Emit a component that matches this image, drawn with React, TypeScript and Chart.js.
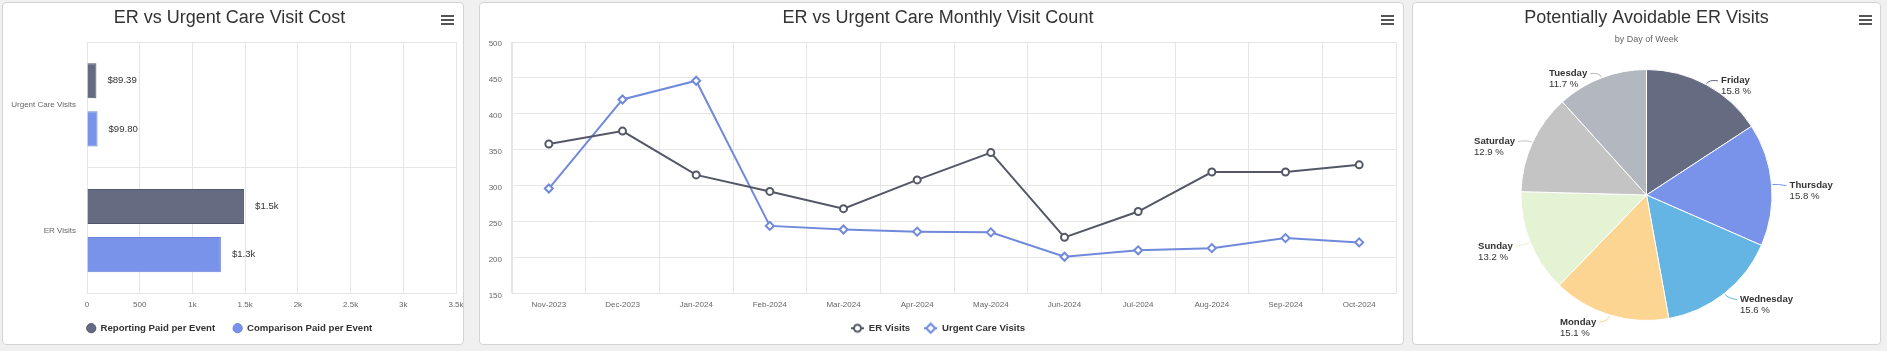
import React, { useEffect, useRef } from 'react';
import { Chart, registerables } from 'chart.js';
Chart.register(...registerables);

const FONT = "'Liberation Sans', Arial, Helvetica, sans-serif";
Chart.defaults.font.family = FONT;

// ---- Panel 1: cost bar chart ----
const costCategories = ['Urgent Care Visits', 'ER Visits'];
const reportingPaid = [89.39, 1490];
const comparisonPaid = [99.8, 1270];
const costMax = 3500;
const costStep = 500;

// ---- Panel 2: monthly visit count ----
const months = ['Nov-2023', 'Dec-2023', 'Jan-2024', 'Feb-2024', 'Mar-2024', 'Apr-2024', 'May-2024', 'Jun-2024', 'Jul-2024', 'Aug-2024', 'Sep-2024', 'Oct-2024'];
const erVisits = [358, 376, 315, 292, 268, 308, 346, 228, 264, 319, 319, 329];
const urgentVisits = [296, 420, 446, 244, 239, 236, 235, 201, 210, 213, 227, 221];
const countMin = 150;
const countMax = 500;

// ---- Panel 3: pie by day of week ----
const days = ['Friday', 'Thursday', 'Wednesday', 'Monday', 'Sunday', 'Saturday', 'Tuesday'];
const dayShares = [15.8, 15.8, 15.6, 15.1, 13.2, 12.9, 11.7];
const dayColors = ['#656b80', '#7a93ea', '#64b5e3', '#fbd591', '#e3f3d3', '#c4c4c4', '#b3b7bf'];

const DARK = '#656b80';
const BLUE = '#7a93ea';
const LINE_DARK = '#545866';
const LINE_BLUE = '#7089db';
const GRID = '#e6e6e6';
const SMALL = 9.6;

const fmtMoney = (v: number) => (v >= 1000 ? '$' + (v / 1000).toFixed(1) + 'k' : '$' + v.toFixed(2));
const fmtK = (v: number) => (v === 0 ? '0' : v >= 1000 ? v / 1000 + 'k' : String(v));

const barLabelPlugin = {
  id: 'barLabels',
  afterDatasetsDraw(chart: any) {
    const ctx = chart.ctx;
    ctx.save();
    ctx.font = SMALL + 'px ' + FONT;
    ctx.fillStyle = '#333';
    ctx.textBaseline = 'middle';
    ctx.textAlign = 'left';
    chart.data.datasets.forEach((ds: any, di: number) => {
      const meta = chart.getDatasetMeta(di);
      meta.data.forEach((el: any, i: number) => {
        ctx.fillText(fmtMoney(ds.data[i]), el.x + 11, el.y);
      });
    });
    ctx.restore();
  },
};

const pieLabelPlugin = {
  id: 'pieLabels',
  afterDatasetsDraw(chart: any) {
    const ctx = chart.ctx;
    const meta = chart.getDatasetMeta(0);
    ctx.save();
    meta.data.forEach((arc: any, i: number) => {
      const p = arc.getProps(['x', 'y', 'startAngle', 'endAngle', 'outerRadius'], true);
      const mid = (p.startAngle + p.endAngle) / 2;
      const c = Math.cos(mid);
      const s = Math.sin(mid);
      const r = p.outerRadius;
      const ex = p.x + (r + 6) * c;
      const ey = p.y + (r + 6) * s;
      const ly = ey + 1.5;
      const right = c >= 0;
      const name = days[i];
      const pct = dayShares[i].toFixed(1) + ' %';
      ctx.font = 'bold ' + SMALL + 'px ' + FONT;
      const w1 = ctx.measureText(name).width;
      ctx.font = SMALL + 'px ' + FONT;
      const w2 = ctx.measureText(pct).width;
      const w = Math.max(w1, w2);
      const tx = right ? ex + 12 : ex - 12 - w;
      ctx.strokeStyle = dayColors[i];
      ctx.lineWidth = 1;
      ctx.beginPath();
      ctx.moveTo(p.x + (r + 1) * c, p.y + (r + 1) * s);
      ctx.quadraticCurveTo(ex, ey, right ? tx - 3 : tx + w + 3, ly);
      ctx.stroke();
      ctx.fillStyle = '#333';
      ctx.textAlign = 'left';
      ctx.textBaseline = 'middle';
      ctx.font = 'bold ' + SMALL + 'px ' + FONT;
      ctx.fillText(name, tx, ly);
      ctx.font = SMALL + 'px ' + FONT;
      ctx.fillText(pct, tx, ly + 11);
    });
    ctx.restore();
  },
};

function makeSymbol(color: string, style: 'circle' | 'diamond') {
  const cv = document.createElement('canvas');
  cv.width = 13;
  cv.height = 12;
  const g = cv.getContext('2d')!;
  g.strokeStyle = color;
  g.lineWidth = 2;
  g.beginPath();
  g.moveTo(0, 6);
  g.lineTo(13, 6);
  g.stroke();
  g.fillStyle = '#fff';
  g.beginPath();
  if (style === 'circle') {
    g.arc(6.5, 6, 3.5, 0, Math.PI * 2);
  } else {
    g.moveTo(6.5, 1.5);
    g.lineTo(11, 6);
    g.lineTo(6.5, 10.5);
    g.lineTo(2, 6);
    g.closePath();
  }
  g.fill();
  g.stroke();
  return cv;
}

const titleOpts = (text: string, bottom: number) => ({
  display: true,
  text,
  color: '#333',
  font: { size: 18, weight: 'normal' as const, family: FONT },
  padding: { top: 4, bottom },
});

const tickFont = { size: 8, family: FONT };
const legendFont = { size: SMALL, weight: 'bold' as const, family: FONT };

// x axis: fixed height, no side padding, tick labels not clipped to the (short) axis box
const fitXAxis = (h: number) => (s: any) => {
  s.height = h;
  s.paddingLeft = 0;
  s.paddingRight = 0;
  s._computeLabelArea = () => undefined;
};

function Hamburger({ left }: { left: number }) {
  const bar = (top: number) => (
    <div style={{ position: 'absolute', left, top, width: 13, height: 2, background: '#555' }} />
  );
  return (
    <>
      {bar(15)}
      {bar(19)}
      {bar(23)}
    </>
  );
}

export default function App() {
  const c1 = useRef<HTMLCanvasElement>(null);
  const c2 = useRef<HTMLCanvasElement>(null);
  const c3 = useRef<HTMLCanvasElement>(null);

  useEffect(() => {
    const charts: Chart[] = [];

    charts.push(
      new Chart(c1.current!, {
        type: 'bar',
        data: {
          labels: costCategories,
          datasets: [
            {
              label: 'Reporting Paid per Event',
              data: reportingPaid,
              backgroundColor: DARK,
              borderColor: '#50566b',
              borderWidth: 1,
              barPercentage: 0.73,
              categoryPercentage: 0.765,
            },
            {
              label: 'Comparison Paid per Event',
              data: comparisonPaid,
              backgroundColor: BLUE,
              borderColor: '#6a83dc',
              borderWidth: 1,
              barPercentage: 0.73,
              categoryPercentage: 0.765,
            },
          ],
        },
        options: {
          indexAxis: 'y',
          animation: false,
          responsive: false,
          layout: { padding: { left: 0, right: 7, top: 0, bottom: 1 } },
          plugins: {
            title: titleOpts('ER vs Urgent Care Visit Cost', 13.4),
            legend: {
              position: 'bottom',
              labels: {
                usePointStyle: true,
                pointStyle: 'circle',
                boxWidth: 9,
                boxHeight: 6.5,
                padding: 18,
                color: '#333',
                font: legendFont,
              },
            },
            tooltip: { enabled: false },
          },
          scales: {
            x: {
              min: 0,
              max: costMax,
              ticks: {
                stepSize: costStep,
                callback: (v: any) => fmtK(Number(v)),
                font: tickFont,
                color: '#666',
                padding: 7,
                maxRotation: 0,
                autoSkip: false,
              },
              grid: { color: GRID, drawTicks: false },
              border: { color: GRID },
              afterFit: fitXAxis(12),
            },
            y: {
              ticks: { font: tickFont, color: '#666', padding: 11 },
              grid: { offset: true, color: GRID, drawTicks: false },
              border: { color: GRID },
              afterFit: (s: any) => {
                s.width = 84;
              },
            },
          },
        },
        plugins: [barLabelPlugin],
      } as any)
    );

    const symbols = [makeSymbol(LINE_DARK, 'circle'), makeSymbol(LINE_BLUE, 'diamond')];
    charts.push(
      new Chart(c2.current!, {
        type: 'line',
        data: {
          labels: months,
          datasets: [
            {
              label: 'ER Visits',
              data: erVisits,
              borderColor: LINE_DARK,
              borderWidth: 2,
              pointStyle: 'circle',
              pointRadius: 3.5,
              pointBorderWidth: 2,
              pointBackgroundColor: '#fff',
              pointBorderColor: LINE_DARK,
              tension: 0,
            },
            {
              label: 'Urgent Care Visits',
              data: urgentVisits,
              borderColor: LINE_BLUE,
              borderWidth: 2,
              pointStyle: 'rectRot',
              pointRadius: 4,
              pointBorderWidth: 2,
              pointBackgroundColor: '#fff',
              pointBorderColor: LINE_BLUE,
              tension: 0,
            },
          ],
        },
        options: {
          animation: false,
          responsive: false,
          layout: { padding: { left: 0, right: 7, top: 0, bottom: 1 } },
          plugins: {
            title: titleOpts('ER vs Urgent Care Monthly Visit Count', 13.4),
            legend: {
              position: 'bottom',
              labels: {
                usePointStyle: true,
                pointStyleWidth: 13,
                padding: 14,
                color: '#333',
                font: legendFont,
                generateLabels: (chart: any) => {
                  const items = (Chart.defaults.plugins.legend.labels as any).generateLabels(chart);
                  return items.map((it: any, i: number) => ({ ...it, pointStyle: symbols[i] }));
                },
              },
            },
            tooltip: { enabled: false },
          },
          scales: {
            x: {
              offset: true,
              ticks: { font: tickFont, color: '#666', padding: 7, maxRotation: 0, autoSkip: false },
              grid: { offset: true, color: GRID, drawTicks: false },
              border: { color: GRID },
              afterFit: fitXAxis(16),
            },
            y: {
              min: countMin,
              max: countMax,
              ticks: { stepSize: 50, font: tickFont, color: '#666', padding: 10, labelOffset: 2 },
              grid: { color: GRID, drawTicks: false },
              border: { color: GRID },
              afterFit: (s: any) => {
                s.width = 32;
              },
            },
          },
        },
      } as any)
    );

    charts.push(
      new Chart(c3.current!, {
        type: 'pie',
        data: {
          labels: days,
          datasets: [
            {
              data: dayShares,
              backgroundColor: dayColors,
              borderColor: '#fff',
              borderWidth: 1,
            },
          ],
        },
        options: {
          animation: false,
          responsive: false,
          layout: { padding: { left: 0, right: 0, top: 0, bottom: 23 } },
          plugins: {
            title: titleOpts('Potentially Avoidable ER Visits', 0),
            subtitle: {
              display: true,
              text: 'by Day of Week',
              color: '#666',
              font: { size: 9, family: FONT },
              padding: { top: 6, bottom: 23.6 },
            },
            legend: { display: false },
            tooltip: { enabled: false },
          },
        },
        plugins: [pieLabelPlugin],
      } as any)
    );

    return () => charts.forEach((c) => c.destroy());
  }, []);

  const panel = (left: number, width: number) => (
    <div
      style={{
        position: 'absolute',
        left,
        top: 2,
        width,
        height: 343,
        boxSizing: 'border-box',
        border: '1px solid #d4d4d4',
        borderRadius: 4,
        background: '#fff',
      }}
    />
  );

  return (
    <div
      style={{
        position: 'fixed',
        left: 0,
        top: 0,
        width: 1887,
        height: 351,
        background: '#f0f0f0',
        overflow: 'hidden',
      }}
    >
      {panel(2, 462)}
      {panel(479, 925)}
      {panel(1412, 469)}
      <canvas ref={c1} width={460} height={341} style={{ position: 'absolute', left: 3, top: 3 }} />
      <canvas ref={c2} width={923} height={341} style={{ position: 'absolute', left: 480, top: 3 }} />
      <canvas ref={c3} width={467} height={341} style={{ position: 'absolute', left: 1413, top: 3 }} />
      <Hamburger left={441} />
      <Hamburger left={1381} />
      <Hamburger left={1859} />
    </div>
  );
}
